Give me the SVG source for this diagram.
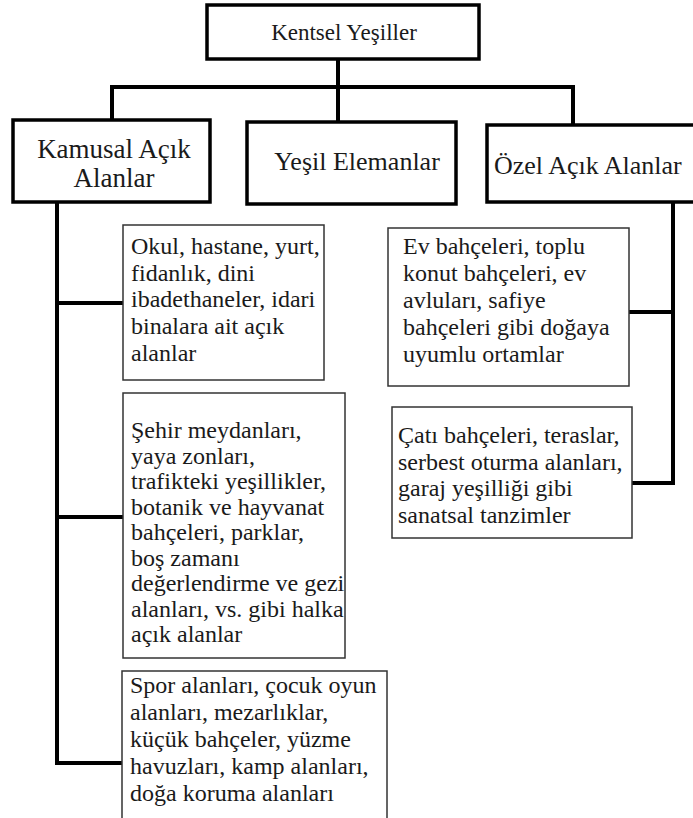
<svg xmlns="http://www.w3.org/2000/svg" width="693" height="818" viewBox="0 0 693 818">
<style>
  .main { fill: #fff; stroke: #000; stroke-width: 3.5; }
  .sub { fill: #fff; stroke: #333; stroke-width: 1.5; }
  .conn { fill: none; stroke: #000; stroke-width: 4; stroke-linejoin: miter; stroke-linecap: square; }
  text { font-family: 'Liberation Serif', 'Times New Roman', 'DejaVu Serif', serif; fill: #1a1a1a; }
  .t23 { font-size: 23px; }
  .t27 { font-size: 27px; }
  .t26 { font-size: 26px; }
  .t24 { font-size: 24px; }
</style>
<rect width="693" height="818" fill="#fff"/>
<g id="connectors">
  <path class="conn" d="M338,59 V122"/>
  <path class="conn" d="M112,120 V87 H573 V125"/>
  <path class="conn" d="M57,202 V763 H122"/>
  <path class="conn" d="M57,303 H123"/>
  <path class="conn" d="M57,517 H123"/>
  <path class="conn" d="M673,202 V483 H629"/>
  <path class="conn" d="M673,312 H629"/>
</g>
<g id="kentsel">
  <rect class="main" x="207" y="5" width="272" height="54"/>
  <text class="t23" x="344" y="40" text-anchor="middle">Kentsel Yeşiller</text>
</g>
<g id="kamusal">
  <rect class="main" x="13" y="120" width="197" height="82"/>
  <text class="t27" x="114" y="158" text-anchor="middle">Kamusal Açık</text>
  <text class="t27" x="114" y="187" text-anchor="middle">Alanlar</text>
</g>
<g id="yesil">
  <rect class="main" x="247" y="122" width="209" height="82"/>
  <text class="t26" x="357" y="170" text-anchor="middle">Yeşil Elemanlar</text>
</g>
<g id="ozel">
  <rect class="main" x="487" y="125" width="210" height="77"/>
  <text class="t26" x="494" y="174">Özel Açık Alanlar</text>
</g>
<g id="kamusal-1">
  <rect class="sub" x="123" y="225" width="201" height="155"/>
  <text class="t24" x="131" y="254">Okul, hastane, yurt,</text>
  <text class="t24" x="131" y="281">fidanlık, dini</text>
  <text class="t24" x="131" y="307">ibadethaneler, idari</text>
  <text class="t24" x="131" y="334">binalara ait açık</text>
  <text class="t24" x="131" y="361">alanlar</text>
</g>
<g id="kamusal-2">
  <rect class="sub" x="123" y="393" width="222" height="265"/>
  <text class="t24" x="131" y="438">Şehir meydanları,</text>
  <text class="t24" x="131" y="464">yaya zonları,</text>
  <text class="t24" x="131" y="489">trafikteki yeşillikler,</text>
  <text class="t24" x="131" y="515">botanik ve hayvanat</text>
  <text class="t24" x="131" y="540">bahçeleri, parklar,</text>
  <text class="t24" x="131" y="566">boş zamanı</text>
  <text class="t24" x="131" y="591">değerlendirme ve gezi</text>
  <text class="t24" x="131" y="617">alanları, vs. gibi halka</text>
  <text class="t24" x="131" y="642">açık alanlar</text>
</g>
<g id="kamusal-3">
  <rect class="sub" x="122" y="671" width="265" height="160"/>
  <text class="t24" x="130" y="693">Spor alanları, çocuk oyun</text>
  <text class="t24" x="130" y="720">alanları, mezarlıklar,</text>
  <text class="t24" x="130" y="747">küçük bahçeler, yüzme</text>
  <text class="t24" x="130" y="774">havuzları, kamp alanları,</text>
  <text class="t24" x="130" y="801">doğa koruma alanları</text>
</g>
<g id="ozel-1">
  <rect class="sub" x="388" y="228" width="241" height="158"/>
  <text class="t24" x="403" y="254">Ev bahçeleri, toplu</text>
  <text class="t24" x="403" y="281">konut bahçeleri, ev</text>
  <text class="t24" x="403" y="308">avluları, safiye</text>
  <text class="t24" x="403" y="335">bahçeleri gibi doğaya</text>
  <text class="t24" x="403" y="362">uyumlu ortamlar</text>
</g>
<g id="ozel-2">
  <rect class="sub" x="392" y="407" width="240" height="131"/>
  <text class="t24" x="398" y="443">Çatı bahçeleri, teraslar,</text>
  <text class="t24" x="398" y="470">serbest oturma alanları,</text>
  <text class="t24" x="398" y="496">garaj yeşilliği gibi</text>
  <text class="t24" x="398" y="523">sanatsal tanzimler</text>
</g>
</svg>
